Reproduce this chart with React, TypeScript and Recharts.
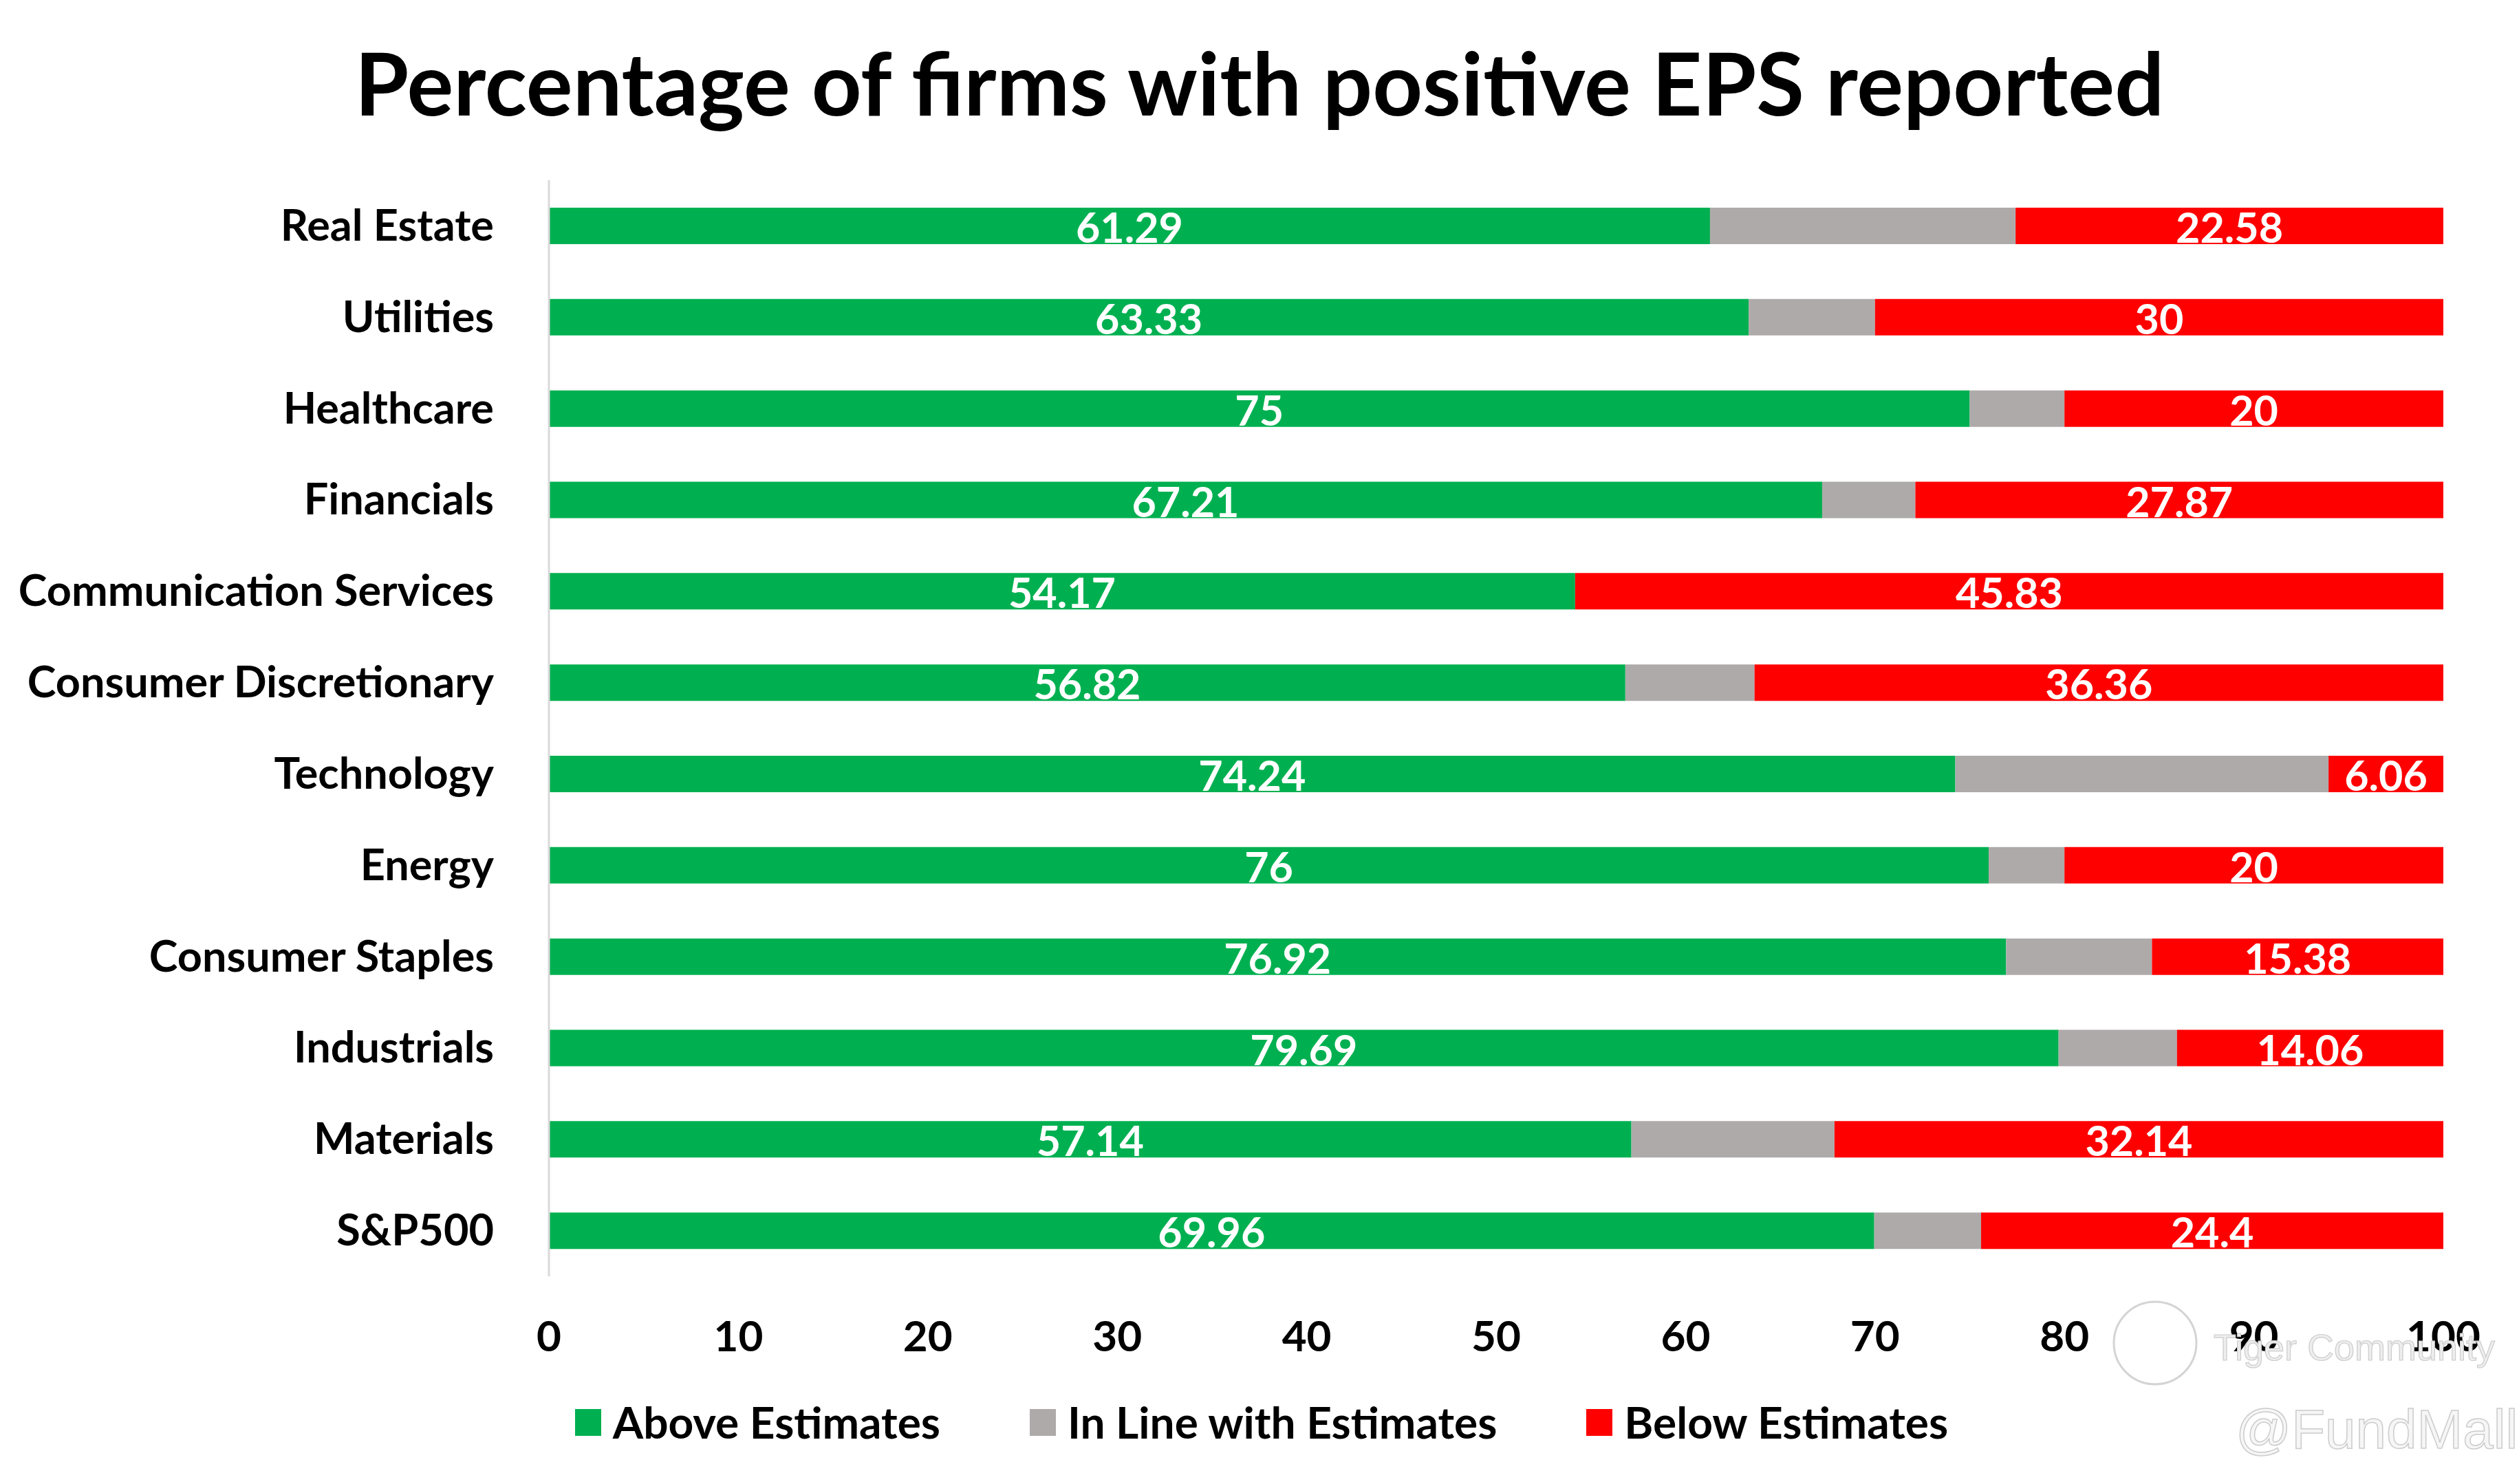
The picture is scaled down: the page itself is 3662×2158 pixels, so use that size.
import { BarChart, Bar, XAxis, YAxis, Legend, LabelList } from 'recharts';

const SECTORS = [
  'Real Estate',
  'Utilities',
  'Healthcare',
  'Financials',
  'Communication Services',
  'Consumer Discretionary',
  'Technology',
  'Energy',
  'Consumer Staples',
  'Industrials',
  'Materials',
  'S&P500',
];
const ABOVE = [61.29, 63.33, 75, 67.21, 54.17, 56.82, 74.24, 76, 76.92, 79.69, 57.14, 69.96];
// not labelled in the picture
const IN_LINE = [16.13, 6.67, 5, 4.92, 0, 6.82, 19.7, 4, 7.7, 6.25, 10.72, 5.64];
const BELOW = [22.58, 30, 20, 27.87, 45.83, 36.36, 6.06, 20, 15.38, 14.06, 32.14, 24.4];
const X_TICKS = [0, 10, 20, 30, 40, 50, 60, 70, 80, 90, 100];
const SERIES_NAMES = ['Above Estimates', 'In Line with Estimates', 'Below Estimates'];

const GREEN = '#00B050';
const GREY = '#AEAAAA';
const RED = '#FF0000';
const FONT = 'Lato, "Open Sans", sans-serif';

const data = SECTORS.map((sector, i) => ({
  sector,
  above: ABOVE[i],
  inLine: IN_LINE[i],
  below: BELOW[i],
}));

const W = 3662;
const H = 2158;

const SectorTick = ({ x, y, payload }: any) => (
  <text x={x - 80} y={y - 3} textAnchor="end" dominantBaseline="central" fontFamily={FONT} fontWeight={700} fontSize={63} fill="#000">
    {payload.value}
  </text>
);

const PctTick = ({ x, y, payload }: any) => (
  <text x={x} y={y + 109} textAnchor="middle" fontFamily={FONT} fontWeight={700} fontSize={62} fill="#000">
    {payload.value}
  </text>
);

const segLabel = (p: any) => {
  if (!p.value) return null;
  return (
    <text
      x={p.x + p.width / 2}
      y={p.y + p.height / 2 + 1}
      textAnchor="middle"
      dominantBaseline="central"
      fontFamily={FONT}
      fontWeight={700}
      fontSize={61}
      fill="#fff"
    >
      {p.value}
    </text>
  );
};

const LegendBox = ({ payload }: any) => {
  const items = [...(payload || [])].sort(
    (a: any, b: any) => SERIES_NAMES.indexOf(a.value) - SERIES_NAMES.indexOf(b.value)
  );
  return (
    <div style={{ display: 'flex', justifyContent: 'center', alignItems: 'center', gap: 130, paddingTop: 48, paddingLeft: 6, fontFamily: FONT }}>
      {items.map((item: any) => (
        <div key={item.value} style={{ display: 'flex', alignItems: 'center' }}>
          <div style={{ width: 38, height: 39, background: item.color, marginRight: 17 }} />
          <span style={{ fontSize: 64, fontWeight: 700, color: '#000', lineHeight: '44px' }}>{item.value}</span>
        </div>
      ))}
    </div>
  );
};

export default function App() {
  return (
    <div style={{ position: 'absolute', left: 0, top: 0, width: W, height: H, background: '#fff' }}>
      <BarChart
        width={W}
        height={H}
        data={data}
        layout="vertical"
        margin={{ top: 262, right: 110, bottom: 0, left: 0 }}
        barSize={53}
      >
        <XAxis
          type="number"
          domain={[0, 100]}
          ticks={X_TICKS}
          axisLine={false}
          tickLine={false}
          tickSize={0}
          tickMargin={0}
          height={142}
          tick={<PctTick />}
          interval={0}
        />
        <YAxis
          type="category"
          dataKey="sector"
          width={798}
          axisLine={{ stroke: '#D9D9D9', strokeWidth: 3 }}
          tickLine={false}
          tickSize={0}
          tickMargin={0}
          tick={<SectorTick />}
          interval={0}
        />
        <Legend
          verticalAlign="bottom"
          content={<LegendBox />}
          wrapperStyle={{ height: 160, width: W, left: 0 }}
        />
        <Bar dataKey="above" name={SERIES_NAMES[0]} stackId="s" fill={GREEN} isAnimationActive={false}>
          <LabelList dataKey="above" content={segLabel} />
        </Bar>
        <Bar dataKey="inLine" name={SERIES_NAMES[1]} stackId="s" fill={GREY} isAnimationActive={false} />
        <Bar dataKey="below" name={SERIES_NAMES[2]} stackId="s" fill={RED} isAnimationActive={false}>
          <LabelList dataKey="below" content={segLabel} />
        </Bar>
      </BarChart>
      <svg width={W} height={H} style={{ position: 'absolute', left: 0, top: 0, pointerEvents: 'none' }}>
        <text x={1831} y={168} textAnchor="middle" fontFamily={FONT} fontWeight={700} fontSize={127} fill="#000">
          Percentage of firms with positive EPS reported
        </text>
        <circle cx={3133} cy={1953} r={60} fill="none" stroke="#d4d4d4" strokeWidth={3} />
        <text x={3218} y={1978} fontFamily='"Liberation Sans", Arial, sans-serif' fontSize={54} fill="#eeeeee" stroke="#cccccc" strokeWidth={1.2}>
          Tiger Community
        </text>
        <text x={3250} y={2106} fontFamily='"Liberation Sans", Arial, sans-serif' fontSize={80} fill="#f6f6f6" stroke="#cccccc" strokeWidth={1.5}>
          @FundMall
        </text>
      </svg>
    </div>
  );
}
